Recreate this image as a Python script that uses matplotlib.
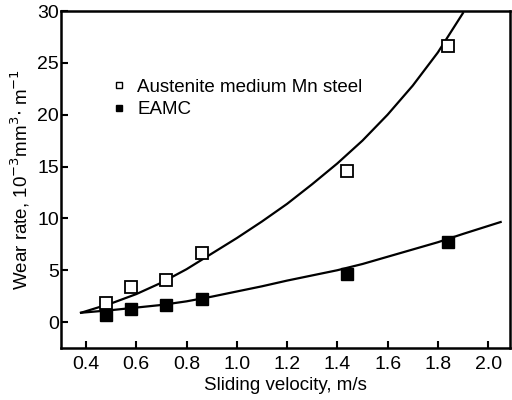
import numpy as np
import matplotlib.pyplot as plt

plt.rcParams['font.family'] = ['Liberation Sans', 'DejaVu Sans']

# measured points
v_aust = [0.48, 0.58, 0.72, 0.86, 1.44, 1.84]
w_aust = [1.8, 3.4, 4.1, 6.7, 14.6, 26.6]
v_eamc = [0.48, 0.58, 0.72, 0.86, 1.44, 1.84]
w_eamc = [0.7, 1.3, 1.6, 2.2, 4.6, 7.7]

# fitted curves
cv_aust = [0.38, 0.5, 0.6, 0.7, 0.8, 0.9, 1.0, 1.1, 1.2, 1.3, 1.4, 1.5, 1.6, 1.7, 1.8, 1.9]
cw_aust = [0.9, 1.8, 2.7, 3.8, 5.1, 6.6, 8.1, 9.7, 11.4, 13.3, 15.3, 17.5, 20.0, 22.8, 26.0, 29.8]
cv_eamc = [0.38, 0.5, 0.6, 0.7, 0.8, 0.9, 1.0, 1.1, 1.2, 1.3, 1.4, 1.5, 1.6, 1.7, 1.8, 1.9, 2.05]
cw_eamc = [0.9, 1.15, 1.4, 1.65, 2.0, 2.45, 2.95, 3.45, 4.0, 4.5, 5.0, 5.6, 6.3, 7.0, 7.7, 8.5, 9.65]

xticks = [0.4, 0.6, 0.8, 1.0, 1.2, 1.4, 1.6, 1.8, 2.0]
yticks = [0, 5, 10, 15, 20, 25, 30]

fig = plt.figure(figsize=(5.12, 4.0), dpi=100)
ax = fig.add_axes([0.119, 0.13, 0.877, 0.8425])

ax.plot(cv_aust, cw_aust, color='black', lw=1.6)
ax.plot(cv_eamc, cw_eamc, color='black', lw=1.6)
ax.plot(v_aust, w_aust, ls='none', marker='s', ms=8.5, mfc='white', mec='black', mew=1.3)
ax.plot(v_eamc, w_eamc, ls='none', marker='s', ms=8.5, mfc='black', mec='black')

# legend
h1, = ax.plot([], [], ls='none', marker='s', ms=5, mfc='white', mec='black', mew=1.0,
              label='Austenite medium Mn steel')
h2, = ax.plot([], [], ls='none', marker='s', ms=5, mfc='black', mec='black', label='EAMC')
ax.legend(handles=[h1, h2], loc='upper left', bbox_to_anchor=(0.07, 0.85), frameon=False,
          fontsize=13.5, handletextpad=0.5, handlelength=1.0, labelspacing=0.3)

ax.set_xlim(0.30, 2.087)
ax.set_ylim(-2.5, 30)
ax.set_xticks(xticks)
ax.set_xticklabels(['%.1f' % t for t in xticks])
ax.set_yticks(yticks)
ax.tick_params(direction='in', length=5, width=1.5, labelsize=14)
ax.tick_params(axis='x', pad=6)
ax.tick_params(axis='y', pad=1.5)
for s in ax.spines.values():
    s.set_linewidth(1.8)

ax.set_xlabel('Sliding velocity, m/s', fontsize=13.5, labelpad=3)
ax.set_ylabel('Wear rate, 10$^{-3}$mm$^{3}$$\\cdot$ m$^{-1}$', fontsize=13.5, labelpad=4)

fig.savefig('out.png', dpi=100)
